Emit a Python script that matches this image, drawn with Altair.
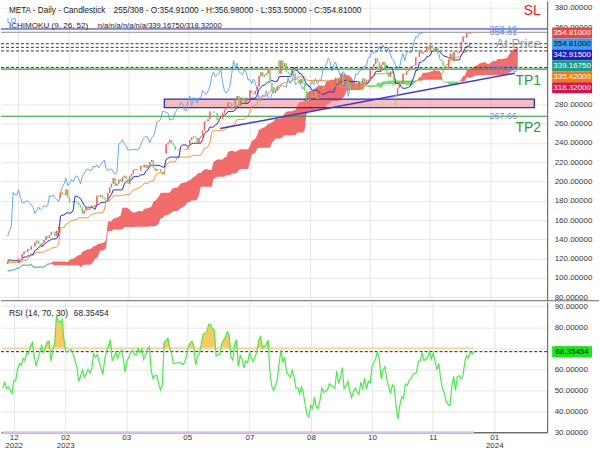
import altair as alt
import numpy as np
import pandas as pd

# ---------------- META daily closes ----------------
# warm-up bars before the visible window (feed the indicators only)
pre_oct22 = [138.98, 136.86, 133.45, 128.54, 127.50, 126.76, 130.29, 126.76, 134.04, 134.57,
             131.53, 130.01, 130.01, 129.72, 137.51, 129.82, 97.94, 99.20, 93.16]
pre_nov22 = [95.20, 90.54, 88.91, 90.79, 96.72, 96.47, 101.47, 111.87, 113.02, 114.22, 117.08,
             113.23, 111.45, 112.05, 109.86, 111.44, 112.24, 111.41, 108.78, 109.46, 118.10]
pre_dec22 = [120.44, 123.49, 122.43, 114.12, 113.93, 115.33, 115.90, 114.71, 120.15, 121.59,
             116.15, 119.43, 114.48]
# visible bars (255)
dec22 = [117.12, 119.58, 117.31, 118.04, 116.88, 115.62, 120.26, 120.34]
jan23 = [124.74, 127.37, 126.94, 130.02, 129.47, 132.99, 132.89, 136.71, 138.63, 135.36,
         133.02, 136.15, 139.37, 143.15, 141.50, 144.43, 147.37, 147.87, 143.10, 148.97]
feb23 = [153.12, 188.77, 186.53, 186.06, 191.62, 183.43, 177.92, 177.88, 179.43, 179.90,
         178.10, 175.50, 173.00, 166.75, 169.97, 173.50, 170.39, 172.31, 174.94]
mar23 = [173.56, 175.47, 185.25, 184.10, 186.00, 183.26, 181.30, 178.96, 188.00, 194.02,
         197.75, 203.63, 195.61, 197.81, 202.16, 199.81, 204.28, 206.01, 202.84, 197.58,
         205.35, 207.84, 211.94]
apr23 = [213.07, 211.64, 211.48, 216.10, 214.75, 217.35, 214.05, 216.80, 220.22, 222.34,
         214.34, 211.18, 212.68, 212.89, 209.97, 207.43, 209.40, 238.56, 240.32]
may23 = [243.17, 239.34, 237.03, 232.78, 232.78, 233.27, 233.29, 233.27, 232.66, 233.81,
         237.00, 243.01, 245.64, 246.85, 245.64, 240.17, 245.19, 246.72, 252.91, 262.04,
         262.51, 264.72]
jun23 = [272.61, 272.61, 271.39, 271.12, 263.60, 264.58, 264.58, 271.34, 274.61, 276.47,
         281.83, 281.00, 274.30, 273.44, 284.84, 288.73, 278.47, 287.05, 285.29, 281.53, 286.98]
jul23 = [286.02, 294.37, 291.99, 290.53, 294.10, 298.29, 309.34, 313.41, 308.87, 310.62,
         312.05, 316.23, 302.52, 294.26, 291.61, 294.47, 298.57, 311.71, 325.48, 318.60]
aug23 = [322.71, 313.77, 312.18, 310.73, 316.56, 312.64, 305.21, 305.74, 301.64, 306.19,
         301.95, 294.29, 285.09, 283.25, 289.90, 287.60, 294.08, 286.75, 285.50, 290.26,
         297.99, 295.10, 295.89]
sep23 = [296.38, 300.15, 299.17, 298.67, 297.89, 307.56, 301.66, 305.06, 311.72, 300.31,
         302.55, 305.07, 299.67, 295.73, 299.08, 300.83, 298.96, 297.74, 303.96, 300.21]
oct23 = [306.82, 300.94, 305.58, 304.79, 315.43, 318.36, 321.84, 327.82, 324.16, 314.69,
         321.15, 324.00, 316.97, 312.81, 308.65, 314.01, 312.55, 299.53, 288.35, 296.73,
         302.66, 301.27]
nov23 = [311.85, 310.87, 314.60, 315.80, 318.82, 319.78, 320.55, 328.77, 329.19, 336.31,
         332.71, 334.19, 335.04, 339.97, 336.98, 341.49, 338.23, 334.70, 338.99, 332.20, 327.15]
dec23 = [324.82, 320.02, 318.29, 317.45, 326.59, 332.75, 325.28, 334.22, 334.73, 333.17,
         334.92, 344.62, 350.36, 349.28, 354.09, 353.39, 354.81]

# gaps and long wicks (bar index in the visible window)
gap_open_bars = [-37, 29, 87, 149, 213]
gap_open_vals = [97.98, 183.20, 229.00, 325.10, 290.30]
wick_high_bars = [149]
wick_high_vals = [326.20]
wick_low_bars = [213]
wick_low_vals = [279.40]

# ---------------- levels / drawings ----------------
level_lo = 358.19
last_close = 354.81
tenkan_now = 342.915
senkou_a_now = 339.1675
kijun_now = 335.42
senkou_b_now = 318.32
tp1 = 316.53
tp2 = 267.66
zone_bars = [86.0, 289.1]
zone_prices = [276.6, 285.5]
trend_bars = [116.7, 278.4]
trend_prices = [254.9, 312.4]
rsi_last = 68.35454

price_ticks = [80, 100, 120, 140, 160, 180, 200, 220, 240, 260, 280, 360, 380]
rsi_ticks = [30, 40, 50, 60, 70, 80, 90]
tick_bars = [5.9, 33.7, 66.6, 99.4, 133.0, 166.1, 199.0, 231.8, 264.9]
tick_month = ["12", "02", "03", "05", "07", "08", "10", "11", "01"]
tick_year = ["2022", "2023", "", "", "", "", "", "", "2024"]

badge_labels = ["354.81000", "354.81000", "342.91500", "339.16750", "335.42000", "318.32000"]
badge_fill = ["#e8453c", "#3a9ff0", "#1e1ec4", "#1f9a86", "#f07d12", "#d0164a"]
badge_textc = ["#ffffff", "#111111", "#ffffff", "#ffffff", "#ffffff", "#ffffff"]

header_texts = ["META - Daily - Candlestick",
                "255/308 - O:354.91000 - H:356.98000 - L:353.50000 - C:354.81000",
                "ICHIMOKU (9, 26, 52)",
                "n/a/n/a/n/a/n/a/339.16750/318.32000"]
header_x = [8, 113, 8, 97]
header_y = [10, 10, 25, 25]
header_fs = [8.2, 8.3, 8.1, 7.6]
rsi_texts = ["RSI (14, 70, 30)", "68.35454"]
rsi_text_x = [8, 73]

# ---------------- build OHLC + indicators ----------------
pre = pre_oct22 + pre_nov22 + pre_dec22
vis = dec22 + jan23 + feb23 + mar23 + apr23 + may23 + jun23 + jul23 + aug23 + sep23 + oct23 + nov23 + dec23
closes = pre + vis
idx = np.arange(len(closes)) - len(pre)
n_vis = len(vis)

c = pd.Series(closes, index=idx, dtype=float)
o = c.shift(1)
o.iloc[0] = c.iloc[0]
for b, v in zip(gap_open_bars, gap_open_vals):
    o[b] = v
h = pd.concat([o, c], axis=1).max(axis=1)
l = pd.concat([o, c], axis=1).min(axis=1)
for b, v in zip(wick_high_bars, wick_high_vals):
    h[b] = max(h[b], v)
for b, v in zip(wick_low_bars, wick_low_vals):
    l[b] = min(l[b], v)

tenkan = (h.rolling(9).max() + l.rolling(9).min()) / 2
kijun = (h.rolling(26).max() + l.rolling(26).min()) / 2
span_a = pd.Series(((tenkan + kijun) / 2).values, index=idx + 26)
span_b = pd.Series(((h.rolling(52).max() + l.rolling(52).min()) / 2).values, index=idx + 26)
chikou = pd.Series(c.values, index=idx - 26)

d = c.diff()
au = d.clip(lower=0).ewm(alpha=1 / 14, adjust=False, min_periods=14).mean()
ad = (-d.clip(upper=0)).ewm(alpha=1 / 14, adjust=False, min_periods=14).mean()
rsi = 100 - 100 / (1 + au / ad)

vmask = (idx >= 0)
candles = pd.DataFrame({"bar": idx, "open": o.values, "close": c.values,
                        "high": h.values, "low": l.values})[vmask]
candles["dir"] = np.where(candles.close >= candles.open, "up", "dn")

lines = pd.DataFrame({"bar": idx, "tenkan": tenkan.values, "kijun": kijun.values,
                      "rsi": rsi.values})[vmask]
lines["rsi_hi"] = np.maximum(lines.rsi, 70)

chk = pd.DataFrame({"bar": chikou.index, "v": chikou.values})
chk = chk[chk.bar >= 0]

cloud = pd.DataFrame({"bar": span_a.index, "a": span_a.values, "b": span_b.values})
cloud = cloud[cloud.bar >= 0]
sa_pre = cloud[cloud.b.isna()]
first_full = cloud.dropna().bar.min()
sa_pre = pd.concat([sa_pre, cloud[cloud.bar == first_full]])
cloud = cloud.dropna().copy()
cloud["kind"] = np.where(cloud.a >= cloud.b, "red", "green")
cloud["seg"] = (cloud.kind != cloud.kind.shift()).cumsum()
parts = []
for s, g in cloud.groupby("seg"):
    parts.append(g)
    nx = cloud[cloud.bar == g.bar.max() + 1]
    if len(nx):
        nx = nx.copy()
        nx["seg"] = s
        nx["kind"] = g.kind.iloc[0]
        parts.append(nx)
cloud_df = pd.concat(parts)

# ---------------- scales / axes ----------------
W, HM, HR = 548, 301, 131
ymin, ymax = 76.3, 387.5
ppu = HM / (ymax - ymin)
xscale = alt.Scale(domain=[-0.91, 293.4], nice=False, zero=False)
yscale = alt.Scale(domain=[ymin, ymax], nice=False, zero=False)
rscale = alt.Scale(domain=[30, 92.1], nice=False, zero=False)
GRID = "#e6e6e6"
FS = 8

main_xaxis = alt.Axis(values=tick_bars, labels=False, ticks=False, domain=False,
                      grid=True, gridColor=GRID, title=None)
main_yaxis = alt.Axis(orient="right", values=price_ticks, format=".5f",
                      labelFontSize=FS, labelColor="#333", ticks=False, labelPadding=7,
                      domain=True, domainColor="#555", grid=True, gridColor=GRID, title=None)

parts_expr = []
for v, m, yv in zip(tick_bars, tick_month, tick_year):
    lab = f"['{m}','{yv}']" if yv else f"'{m}'"
    parts_expr.append(f"abs(datum.value - {v}) < 0.5 ? {lab} : ")
label_expr = "".join(parts_expr) + "''"
rsi_xaxis = alt.Axis(values=tick_bars, labelExpr=label_expr, ticks=False, domain=True,
                     domainColor="#333", grid=True, gridColor=GRID, labelFontSize=FS,
                     labelColor="#333", labelPadding=1, labelFlush=False, labelOverlap=False,
                     labelLineHeight=8, title=None)
rsi_yaxis = alt.Axis(orient="right", values=rsi_ticks, format=".5f",
                     labelFontSize=FS, labelColor="#333", ticks=False, labelPadding=7,
                     domain=True, domainColor="#555", grid=True, gridColor=GRID, title=None)


def X(f="bar"):
    return alt.X(f"{f}:Q", scale=xscale, axis=main_xaxis)


def Y(f):
    return alt.Y(f"{f}:Q", scale=yscale, axis=main_yaxis)


def XR(f="bar"):
    return alt.X(f"{f}:Q", scale=xscale, axis=rsi_xaxis)


def YR(f):
    return alt.Y(f"{f}:Q", scale=rscale, axis=rsi_yaxis)


# ---------------- main panel ----------------
cloud_layer = alt.Chart(cloud_df).mark_area(orient="vertical", opacity=0.95).encode(
    x=X(), y=Y("a"), y2="b",
    color=alt.Color("kind:N", scale=alt.Scale(domain=["red", "green"], range=["#f26464", "#72d86a"]), legend=None),
    detail="seg:N")
sa_layer = alt.Chart(sa_pre).mark_line(color="#2a9d8f", strokeWidth=1).encode(x=X(), y=Y("a"))

zone_df = pd.DataFrame({"b0": [zone_bars[0]], "b1": [zone_bars[1]], "p0": [zone_prices[0]], "p1": [zone_prices[1]]})
zone = alt.Chart(zone_df).mark_rect(fill="#f08080", fillOpacity=0.5, stroke="#2a2ac0", strokeWidth=1.3).encode(
    x=X("b0"), x2="b1", y=Y("p0"), y2="p1")

chk_layer = alt.Chart(chk).mark_line(color="#62a8f0", strokeWidth=1).encode(x=X(), y=Y("v"))
kij_layer = alt.Chart(lines).mark_line(color="#f5922f", strokeWidth=1).encode(x=X(), y=Y("kijun"))
ten_layer = alt.Chart(lines).mark_line(color="#2828c8", strokeWidth=1).encode(x=X(), y=Y("tenkan"))

solid_df = pd.DataFrame({"p": [level_lo, last_close, tp1, tp2],
                         "col": ["#2a2ab8", "#8a8a8a", "#2f9a2f", "#2f9a2f"]})
solid = alt.Chart(solid_df).mark_rule(strokeWidth=1.2).encode(
    y=Y("p"), color=alt.Color("col:N", scale=None))
dash_df = pd.DataFrame({"p": [tenkan_now, senkou_a_now, kijun_now, senkou_b_now]})
dashed = alt.Chart(dash_df).mark_rule(strokeWidth=1, strokeDash=[3, 2], color="#333").encode(y=Y("p"))

trend_df = pd.DataFrame({"bar": trend_bars, "p": trend_prices})
trend = alt.Chart(trend_df).mark_line(color="#3a3ad0", strokeWidth=1.5).encode(x=X(), y=Y("p"))

cscale = alt.Scale(domain=["up", "dn"], range=["#23a023", "#e3302a"])
wick = alt.Chart(candles).mark_rule(strokeWidth=0.8).encode(
    x=X(), y=Y("low"), y2="high", color=alt.Color("dir:N", scale=cscale, legend=None))
body = alt.Chart(candles).mark_bar(size=1.4).encode(
    x=X(), y=Y("open"), y2="close", color=alt.Color("dir:N", scale=cscale, legend=None))

lbl_df = pd.DataFrame({"t": ["358.19", "354.81", "316.53", "267.66"],
                       "p": [level_lo, last_close, tp1, tp2],
                       "dy": [-6, -4, -6, -6]})
small_lbls = alt.Chart(lbl_df).mark_text(fontSize=9, color="#6a8ff0", align="center").encode(
    x=alt.value(504), y=Y("p"), text="t:N", yOffset=alt.YOffset("dy:Q", scale=None))

big_df = pd.DataFrame({"t": ["TP1", "TP2"], "p": [tp1, tp2]})
big_lbls = alt.Chart(big_df).mark_text(fontSize=14, color="#2f9a2f", align="center", dy=11.5).encode(
    x=alt.value(529), y=Y("p"), text="t:N")
sl_lbl = alt.Chart(pd.DataFrame({"t": ["SL"]})).mark_text(fontSize=14, color="#e02020", align="center").encode(
    x=alt.value(533), y=alt.value(10), text="t:N")
at_lbl = alt.Chart(pd.DataFrame({"t": ["At Price"]})).mark_text(fontSize=13, color="#9a9a9a", align="center").encode(
    x=alt.value(519), y=alt.value(43), text="t:N")
lo_lbl = alt.Chart(pd.DataFrame({"t": ["LO"]})).mark_text(fontSize=7, color="#4f6fdf", align="left").encode(
    x=alt.value(6), y=alt.value(20), text="t:N")

head_df = pd.DataFrame({"t": header_texts, "px": header_x, "py": header_y, "fs": header_fs})
heads = alt.Chart(head_df).mark_text(color="#222", align="left").encode(
    x=alt.X("px:Q", scale=None), y=alt.Y("py:Q", scale=None), text="t:N",
    size=alt.Size("fs:Q", scale=None, legend=None))

slot_px = [32.3 + 11 * i for i in range(len(badge_labels))]
badge_df = pd.DataFrame({"t": badge_labels, "fill": badge_fill, "tc": badge_textc,
                         "mid": [ymax - s / ppu for s in slot_px],
                         "top": [ymax - (s - 5.5) / ppu for s in slot_px],
                         "bot": [ymax - (s + 5.5) / ppu for s in slot_px]})
badge_rect = alt.Chart(badge_df).mark_rect().encode(
    x=alt.value(553), x2=alt.value(593), y=Y("top"), y2="bot", color=alt.Color("fill:N", scale=None))
badge_text = alt.Chart(badge_df).mark_text(fontSize=8, align="center").encode(
    x=alt.value(573), y=Y("mid"), text="t:N", color=alt.Color("tc:N", scale=None))

divider = alt.Chart(pd.DataFrame({"k": [0]})).mark_rule(color="#666", strokeWidth=1).encode(
    x=alt.value(0), x2=alt.value(600), y=alt.value(HM))

main = alt.layer(cloud_layer, sa_layer, zone, chk_layer, kij_layer, ten_layer, solid, dashed,
                 trend, wick, body, small_lbls, big_lbls, sl_lbl, at_lbl, lo_lbl, heads,
                 badge_rect, badge_text, divider).properties(width=W, height=HM)

# ---------------- RSI panel ----------------
rsi_fill = alt.Chart(lines).mark_area(orient="vertical", color="#f7c553", opacity=0.9).encode(
    x=XR(), y=YR("rsi_hi"), y2=alt.Y2(datum=70))
lvl_df = pd.DataFrame({"b0": [0, 0], "b1": [n_vis - 1, n_vis - 1], "v": [70, 30],
                       "col": ["#f3d9a4", "#dcc2ea"]})
lvl = alt.Chart(lvl_df).mark_rule(strokeWidth=2).encode(
    x=XR("b0"), x2="b1", y=YR("v"), color=alt.Color("col:N", scale=None))
now_df = pd.DataFrame({"v": [rsi_last]})
now_rule = alt.Chart(now_df).mark_rule(strokeDash=[3, 2], color="#222", strokeWidth=1).encode(y=YR("v"))
rsi_line = alt.Chart(lines).mark_line(color="#4ce84c", strokeWidth=1.2).encode(x=XR(), y=YR("rsi"))
rsi_head_df = pd.DataFrame({"t": rsi_texts, "px": rsi_text_x})
rsi_title = alt.Chart(rsi_head_df).mark_text(fontSize=8.4, color="#222", align="left").encode(
    x=alt.X("px:Q", scale=None), y=alt.value(11), text="t:N")
rppu = HR / (92.1 - 30)
rb_df = pd.DataFrame({"t": ["68.35454"], "mid": [rsi_last], "top": [rsi_last + 5.5 / rppu],
                      "bot": [rsi_last - 5.5 / rppu]})
rb_rect = alt.Chart(rb_df).mark_rect(color="#18e818").encode(
    x=alt.value(553), x2=alt.value(593), y=YR("top"), y2="bot")
rb_text = alt.Chart(rb_df).mark_text(fontSize=8, align="center", color="#1a1a1a").encode(
    x=alt.value(573), y=YR("mid"), text="t:N")

rsi_chart = alt.layer(rsi_fill, lvl, now_rule, rsi_line, rsi_title, rb_rect, rb_text).properties(
    width=W, height=HR)

chart = alt.vconcat(main, rsi_chart, spacing=0).properties(
    padding={"left": 0, "top": 0, "right": 0, "bottom": 0}
).configure(font="Liberation Sans").configure_view(stroke=None)

chart.save("out.html", embed_options={"renderer": "svg", "actions": False})
